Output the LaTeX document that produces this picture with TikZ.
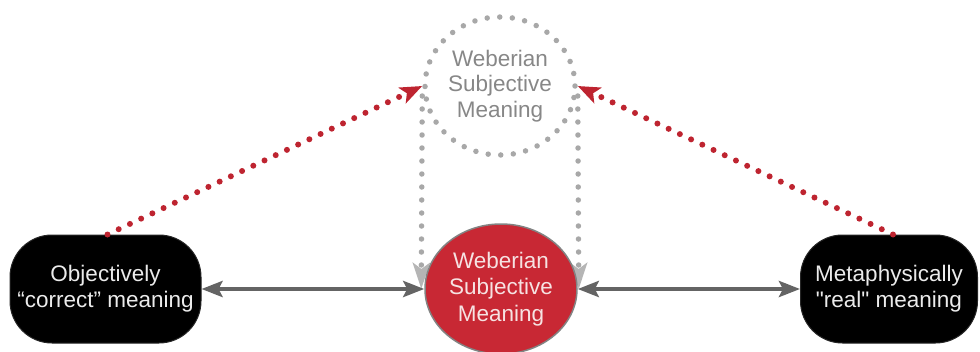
\documentclass[tikz,border=0pt]{standalone}
\usepackage{fontspec}
\setmainfont{Liberation Sans}[Ligatures=TeXOff]
\usetikzlibrary{shapes.geometric,arrows.meta}
\definecolor{wred}{RGB}{200,40,52}
\definecolor{dred}{RGB}{190,36,48}
\definecolor{dgray}{RGB}{100,100,100}
\definecolor{lgray}{RGB}{168,168,168}
\definecolor{tgray}{RGB}{135,135,135}
\definecolor{pinkw}{RGB}{246,226,226}
\tikzset{
  blackbox/.style={rectangle, rounded corners=42pt, fill=black, draw=black!85, line width=1pt,
    text=white!92!black, align=center, font=\fontsize{22.5}{26}\selectfont, inner sep=0pt},
  redcirc/.style={ellipse, fill=wred, draw=dgray!80, line width=1.5pt, text=pinkw,
    align=center, font=\fontsize{22.5}{26.5}\selectfont, inner sep=0pt},
  ghostcirc/.style={ellipse, draw=lgray, line width=5.5pt, line cap=round,
    dash pattern=on 0pt off 12.6pt, text=tgray, align=center,
    font=\fontsize{22.5}{25.5}\selectfont, inner sep=0pt},
  darr/.style={draw=dgray, line width=4.5pt, {Stealth[length=21pt,width=16pt,inset=4pt]}-{Stealth[length=21pt,width=16pt,inset=4pt]}},
  reddot/.style={draw=dred, line width=6pt, line cap=round, dash pattern=on 0pt off 12.4pt,
    -{Stealth[length=22pt,width=17pt,inset=5pt,fill=dred]}},
  graydot/.style={draw=lgray, line width=5.5pt, line cap=round, dash pattern=on 0pt off 13pt,
    -{Stealth[length=26pt,width=17pt,inset=6pt,fill=lgray!85,color=lgray!85]}},
}
\begin{document}
\begin{tikzpicture}[x=1pt,y=-1pt]
\useasboundingbox (0,0) rectangle (980,351);
\node[ghostcirc, minimum width=150pt, minimum height=138pt] (G) at (500,86) {Weberian\\Subjective\\Meaning};
\node[blackbox, minimum width=191pt, minimum height=108pt] (L) at (105.5,289) {Objectively\\“correct” meaning};
\node[blackbox, minimum width=177pt, minimum height=108pt] (R) at (889,289) {Metaphysically\\"real" meaning};
\coordinate (GL) at ([yshift=-10pt]G.west);
\coordinate (GR) at ([yshift=-10pt]G.east);
\draw[graydot] (GL) -- ([xshift=-1pt]G.west |- L.center);
\draw[graydot] (GR) -- ([xshift=1pt]G.east |- R.center);
\node[redcirc, minimum width=152pt, minimum height=130pt] (W) at (501,289) {Weberian\\Subjective\\Meaning};
\draw[darr] (L.east) -- (W.west);
\draw[darr] (W.east) -- (R.west);
\draw[reddot] ([xshift=2pt]L.north) -- (G.west);
\draw[reddot] ([xshift=4pt]R.north) -- (G.east);
\end{tikzpicture}
\end{document}
